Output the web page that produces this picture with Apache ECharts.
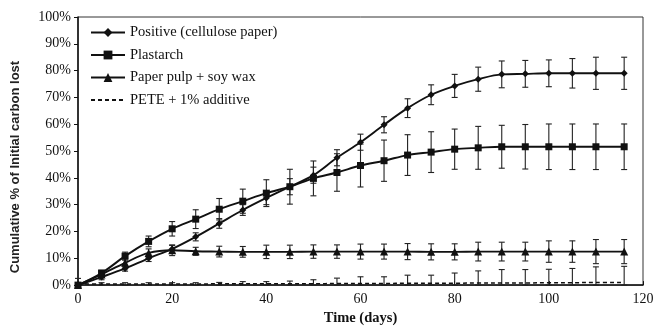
<!DOCTYPE html>
<html>
<head>
<meta charset="utf-8">
<script src="https://cdn.jsdelivr.net/npm/echarts@6/dist/echarts.min.js"></script>
<style>
  html, body { margin: 0; padding: 0; background: #fff; }
  #chart { width: 663px; height: 331px; }
</style>
</head>
<body>
<div id="chart"></div>
<script>
// sampling days
const days = [0, 5, 10, 15, 20, 25, 30, 35, 40, 45, 50, 55, 60, 65, 70, 75, 80, 85, 90, 95, 100, 105, 110, 116];

// cumulative % of initial carbon lost, with +/- error
const positive = [0, 3, 6.2, 10, 13.5, 18, 23, 28, 32.5, 36.7, 41, 47.5, 53.3, 59.8, 66, 71, 74.3, 76.8, 78.6, 78.8, 79, 79, 79, 79];
const positiveErr = [0.5, 1, 1, 1.2, 1.3, 1.5, 1.8, 2, 2.5, 3, 3, 3, 3, 3, 3.5, 3.7, 4.3, 4.5, 5, 5, 5, 5.5, 6, 6];

const plastarch = [0, 4.5, 10.8, 16.3, 21, 24.6, 28.3, 31.3, 34.3, 36.7, 39.8, 42, 44.6, 46.4, 48.5, 49.6, 50.7, 51.2, 51.6, 51.6, 51.6, 51.6, 51.6, 51.6];
const plastarchErr = [0.5, 1, 1.5, 2, 2.7, 3.5, 4, 4.5, 5, 6.5, 6.5, 7, 8, 7.7, 7.6, 7.6, 7.5, 8, 8, 8.3, 8.5, 8.5, 8.5, 8.5];

const pulp = [0, 4, 8.3, 12, 13, 12.6, 12.5, 12.4, 12.4, 12.4, 12.5, 12.5, 12.5, 12.5, 12.5, 12.4, 12.4, 12.5, 12.5, 12.5, 12.5, 12.5, 12.5, 12.5];
const pulpErr = [0.5, 1, 1.5, 1.5, 2, 1.5, 2, 2, 2.5, 2.5, 2.5, 2.5, 2.8, 2.8, 3, 3, 3, 3.5, 3.5, 3.5, 4, 4, 4.5, 4.5];

const pete = [0.5, 0.4, 0.4, 0.4, 0.4, 0.4, 0.5, 0.5, 0.5, 0.5, 0.5, 0.6, 0.6, 0.6, 0.7, 0.7, 0.7, 0.8, 0.8, 0.8, 0.9, 0.9, 1, 1];
const peteErr = [2, 0.5, 0.5, 0.5, 0.5, 0.5, 0.5, 0.8, 0.8, 1, 1.5, 2, 2.5, 2.5, 3, 3, 3.8, 4.5, 5, 5, 5, 5.3, 5.8, 6];

const seriesNames = ["Positive (cellulose paper)", "Plastarch", "Paper pulp + soy wax", "PETE + 1% additive"];

const ink = "#111";
const serif = "'Liberation Serif', 'DejaVu Serif', serif";

const pairs = (ys) => days.map((d, i) => [d, ys[i]]);
const bars = (ys, err) => days.map((d, i) => [d, ys[i] - err[i], ys[i] + err[i]]);

// I-beam error bar, low end clipped at the axis floor
function errorBar(params, api) {
  const x = api.value(0);
  const lo = Math.max(0, api.value(1));
  const hi = api.value(2);
  const top = api.coord([x, hi]);
  const bot = api.coord([x, lo]);
  const w = 3;
  const style = { stroke: "#222", lineWidth: 1.1 };
  return {
    type: "group",
    children: [
      { type: "line", shape: { x1: top[0], y1: top[1], x2: bot[0], y2: bot[1] }, style },
      { type: "line", shape: { x1: top[0] - w, y1: top[1], x2: top[0] + w, y2: top[1] }, style },
      { type: "line", shape: { x1: bot[0] - w, y1: bot[1], x2: bot[0] + w, y2: bot[1] }, style },
    ],
  };
}

const errSeries = (ys, err) => ({
  type: "custom",
  renderItem: errorBar,
  data: bars(ys, err),
  encode: { x: 0, y: [1, 2] },
  silent: true,
  z: 3,
});

const lineSeries = (name, ys, symbol, size, dashed) => ({
  name,
  type: "line",
  data: pairs(ys),
  smooth: 0.35,
  symbol,
  symbolSize: size,
  itemStyle: { color: ink },
  lineStyle: { color: ink, width: dashed ? 1.5 : 1.9, type: dashed ? [4, 3] : "solid" },
  emphasis: { disabled: true },
  z: 4,
});

const chart = echarts.init(document.getElementById("chart"), null, { renderer: "canvas" });

chart.setOption({
  animation: false,
  backgroundColor: "#fff",
  grid: { left: 78, right: 20, top: 17, bottom: 38, show: true, borderColor: "#333", borderWidth: 1 },
  legend: {
    // PETE has no marker: hide the legend symbol, keep the dashed line
    data: seriesNames.map((n, i) => (i === 3 ? { name: n, itemStyle: { opacity: 0 } } : n)),
    orient: "vertical",
    left: 85,
    top: 20,
    itemWidth: 34,
    itemHeight: 11,
    itemGap: 7.5,
    textStyle: { fontFamily: serif, fontSize: 14.5, color: ink },
  },
  xAxis: {
    type: "value",
    min: 0,
    max: 120,
    interval: 20,
    name: "Time (days)",
    nameLocation: "middle",
    nameGap: 22,
    nameTextStyle: { fontFamily: serif, fontSize: 14.5, fontWeight: "bold", color: ink },
    axisLine: { lineStyle: { color: ink, width: 1.5 } },
    axisTick: { inside: true, length: 4, lineStyle: { color: ink } },
    axisLabel: { fontFamily: serif, fontSize: 14, color: ink, margin: 7 },
    splitLine: { show: false },
  },
  yAxis: {
    type: "value",
    min: 0,
    max: 100,
    interval: 10,
    name: "Cumulative % of Initial carbon lost",
    nameLocation: "middle",
    nameRotate: 90,
    nameGap: 56,
    nameTextStyle: {
      fontFamily: "'Liberation Sans', Arial, sans-serif",
      fontSize: 13,
      fontWeight: "bold",
      color: "#222",
      padding: [0, 32, 0, 0],
    },
    axisLine: { show: true, lineStyle: { color: ink, width: 1.5 } },
    axisTick: { show: true, length: 4, lineStyle: { color: ink } },
    axisLabel: { fontFamily: serif, fontSize: 14, color: ink, margin: 7, formatter: "{value}%" },
    splitLine: { show: false },
  },
  series: [
    lineSeries(seriesNames[0], positive, "diamond", 7, false),
    lineSeries(seriesNames[1], plastarch, "rect", 7, false),
    lineSeries(seriesNames[2], pulp, "triangle", 8, false),
    lineSeries(seriesNames[3], pete, "none", 0, true),
    errSeries(positive, positiveErr),
    errSeries(plastarch, plastarchErr),
    errSeries(pulp, pulpErr),
    errSeries(pete, peteErr),
  ],
});
</script>
</body>
</html>
